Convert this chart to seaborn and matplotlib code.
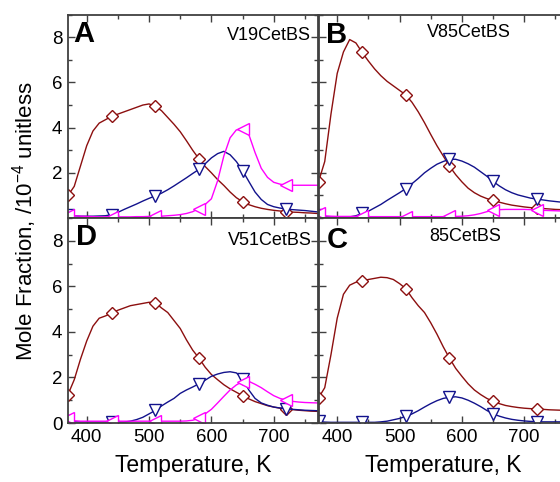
import numpy as np
import pandas as pd
import matplotlib
matplotlib.use("Agg")
import matplotlib.pyplot as plt
from matplotlib.ticker import MultipleLocator
import seaborn as sns

# ---------------- data ----------------
temperature = list(range(370, 780, 10))  # K

a_red = [1.0, 1.4, 2.3, 3.2, 3.85, 4.2, 4.35, 4.5, 4.6, 4.7, 4.8, 4.9, 5.0, 5.05, 4.95,
         4.75, 4.45, 4.15, 3.82, 3.42, 3.0, 2.62, 2.28, 2.0, 1.7, 1.44, 1.15, 0.9, 0.72,
         0.59, 0.5, 0.43, 0.38, 0.34, 0.31, 0.28, 0.26, 0.25, 0.23, 0.22, 0.2]
a_blue = [0.12, 0.1, 0.08, 0.08, 0.08, 0.09, 0.1, 0.15, 0.25, 0.38, 0.5, 0.62, 0.75, 0.87,
          0.98, 1.1, 1.25, 1.42, 1.6, 1.78, 1.97, 2.15, 2.4, 2.66, 2.85, 2.95, 2.8, 2.5, 2.1,
          1.62, 1.15, 0.82, 0.6, 0.5, 0.44, 0.4, 0.37, 0.35, 0.33, 0.3, 0.27]
a_mag = [0.15, 0.1, 0.08, 0.07, 0.06, 0.05, 0.05, 0.05, 0.05, 0.05, 0.05, 0.06, 0.06, 0.07,
         0.08, 0.08, 0.1, 0.12, 0.15, 0.2, 0.28, 0.42, 0.6, 0.85, 1.65, 2.75, 3.55, 3.9, 3.95,
         3.7, 2.9, 2.2, 1.8, 1.58, 1.5, 1.45, 1.45, 1.45, 1.45, 1.45, 1.45]

b_red = [1.6, 2.5, 4.6, 6.4, 7.35, 7.9, 7.75, 7.33, 6.95, 6.6, 6.3, 6.05, 5.85, 5.65, 5.45,
         5.12, 4.7, 4.22, 3.7, 3.2, 2.75, 2.3, 1.92, 1.6, 1.32, 1.12, 0.97, 0.86, 0.78, 0.7,
         0.63, 0.57, 0.53, 0.49, 0.46, 0.44, 0.42, 0.4, 0.38, 0.37, 0.36]
b_blue = [0.15, 0.05, 0.04, 0.04, 0.04, 0.05, 0.1, 0.2, 0.3, 0.45, 0.6, 0.78, 0.95, 1.12,
          1.3, 1.52, 1.75, 2.0, 2.2, 2.38, 2.5, 2.6, 2.6, 2.52, 2.4, 2.25, 2.05, 1.85, 1.62,
          1.42, 1.25, 1.12, 1.02, 0.95, 0.88, 0.84, 0.8, 0.76, 0.73, 0.7, 0.68]
b_mag = [0.2, 0.1, 0.08, 0.07, 0.07, 0.07, 0.07, 0.07, 0.06, 0.06, 0.06, 0.06, 0.06, 0.06,
         0.06, 0.06, 0.06, 0.06, 0.06, 0.06, 0.06, 0.07, 0.07, 0.08, 0.1, 0.14, 0.2, 0.28,
         0.34, 0.37, 0.38, 0.38, 0.38, 0.38, 0.37, 0.36, 0.34, 0.33, 0.32, 0.31, 0.3]

d_red = [1.25, 1.9, 2.8, 3.6, 4.25, 4.6, 4.7, 4.82, 4.95, 5.05, 5.15, 5.2, 5.25, 5.3, 5.28,
         5.05, 4.85, 4.5, 4.15, 3.65, 3.2, 2.85, 2.45, 2.13, 1.9, 1.68, 1.5, 1.35, 1.2, 1.06,
         0.94, 0.85, 0.76, 0.7, 0.65, 0.62, 0.59, 0.56, 0.54, 0.52, 0.51]
d_blue = [0.08, 0.05, 0.04, 0.04, 0.04, 0.04, 0.04, 0.04, 0.04, 0.04, 0.08, 0.15, 0.25, 0.4,
          0.55, 0.75, 0.92, 1.08, 1.3, 1.45, 1.58, 1.72, 1.88, 2.05, 2.15, 2.22, 2.25, 2.2,
          1.95, 1.45, 1.08, 0.88, 0.78, 0.7, 0.66, 0.62, 0.6, 0.58, 0.56, 0.55, 0.54]
d_mag = [0.2, 0.1, 0.08, 0.08, 0.08, 0.08, 0.08, 0.08, 0.08, 0.08, 0.08, 0.08, 0.08, 0.08,
         0.08, 0.08, 0.08, 0.08, 0.08, 0.09, 0.12, 0.2, 0.4, 0.6, 0.88, 1.17, 1.45, 1.67,
         1.82, 1.83, 1.7, 1.55, 1.37, 1.2, 1.08, 1.0, 0.95, 0.92, 0.9, 0.89, 0.88]

c_red = [1.1, 1.55, 3.0, 4.6, 5.65, 6.05, 6.18, 6.23, 6.3, 6.35, 6.4, 6.38, 6.3, 6.12, 5.9,
         5.5, 5.15, 4.85, 4.4, 3.9, 3.35, 2.85, 2.4, 2.05, 1.72, 1.45, 1.25, 1.08, 0.95, 0.85,
         0.77, 0.72, 0.68, 0.65, 0.63, 0.62, 0.6, 0.58, 0.57, 0.56, 0.55]
c_blue = [0.07, 0.04, 0.03, 0.03, 0.03, 0.03, 0.03, 0.03, 0.03, 0.03, 0.05, 0.08, 0.14, 0.2,
          0.29, 0.4, 0.54, 0.7, 0.85, 0.98, 1.08, 1.13, 1.15, 1.1, 1.0, 0.87, 0.72, 0.55, 0.4,
          0.3, 0.22, 0.16, 0.12, 0.09, 0.07, 0.06, 0.05, 0.05, 0.05, 0.05, 0.05]

panel_letters = ["A", "B", "D", "C"]
sample_names = ["V19CetBS", "V85CetBS", "V51CetBS", "85CetBS"]
x_ticks = [400, 500, 600, 700]
y_ticks = [0, 2, 4, 6, 8]
x_label = "Temperature, K"
y_label = "Mole Fraction, /10$^{-4}$ unitless"

# ---------------- style ----------------
sns.set_style("ticks")
plt.rcParams["font.family"] = ["Liberation Sans", "DejaVu Sans"]
plt.rcParams["mathtext.default"] = "regular"
plt.rcParams["text.color"] = "black"
plt.rcParams["axes.labelcolor"] = "black"
plt.rcParams["xtick.labelcolor"] = "black"
plt.rcParams["ytick.labelcolor"] = "black"

RED = "#8c0f0f"
BLUE = "#12128c"
MAG = "#ff00ff"
SPINE = "#404040"

W, H = 560, 482
fig = plt.figure(figsize=(W / 100, H / 100), dpi=100)


def px_axes(left, top, right, bottom):
    return fig.add_axes([left / W, 1 - bottom / H, (right - left) / W, (bottom - top) / H])


axA = px_axes(68, 14.7, 318, 218)
axB = px_axes(318.5, 14.7, 568.5, 218)
axD = px_axes(68, 218, 318, 423)
axC = px_axes(318.5, 218, 568.5, 423)

mark_idx = [0, 7, 14, 21, 28, 35]

panels = [
    (axA, [(a_red, RED, "D", 6.0), (a_blue, BLUE, "v", 8.5), (a_mag, MAG, "<", 8.5)]),
    (axB, [(b_red, RED, "D", 6.0), (b_blue, BLUE, "v", 8.5), (b_mag, MAG, "<", 8.5)]),
    (axD, [(d_red, RED, "D", 6.0), (d_blue, BLUE, "v", 8.5), (d_mag, MAG, "<", 8.5)]),
    (axC, [(c_red, RED, "D", 6.0), (c_blue, BLUE, "v", 8.5)]),
]

for ax, series in panels:
    for vals, col, mk, ms in series:
        df = pd.DataFrame({"T": temperature, "v": vals})
        sns.lineplot(data=df, x="T", y="v", ax=ax, color=col, lw=1.0,
                     estimator=None, sort=False, marker=mk, markevery=mark_idx,
                     markersize=ms, markerfacecolor="white",
                     markeredgecolor=col, markeredgewidth=1.0)

for ax in [axA, axB, axD, axC]:
    ax.set_xlim(370, 771)
    ax.set_ylim(0, 9)
    ax.set_xticks(x_ticks)
    ax.xaxis.set_minor_locator(MultipleLocator(50))
    ax.yaxis.set_minor_locator(MultipleLocator(1))
    ax.tick_params(which="both", direction="in", top=True, right=True,
                   color=SPINE, width=1.0, labelsize=13.5, pad=4, labelcolor="black")
    ax.tick_params(which="major", length=5)
    ax.tick_params(which="minor", length=3)
    for sp in ax.spines.values():
        sp.set_color(SPINE)
        sp.set_linewidth(1.3)
    ax.set_xlabel("")
    ax.set_ylabel("")

axA.set_yticks([2, 4, 6, 8])
axD.set_yticks(y_ticks)
axB.set_yticks(y_ticks)
axC.set_yticks(y_ticks)
for ax in [axB, axC]:
    ax.tick_params(labelleft=False)
for ax in [axA, axB]:
    ax.tick_params(labelbottom=False)

axD.set_xlabel(x_label, fontsize=16.5, labelpad=6, color="black")
axC.set_xlabel(x_label, fontsize=16.5, labelpad=6, color="black")
fig.text(25 / W, 1 - 221 / H, y_label, rotation=90, ha="center", va="center",
         fontsize=16, color="black")

# panel letters and sample names
letter_pos = [(0.020, 0.906), (0.032, 0.9), (0.032, 0.907), (0.032, 0.893)]
name_pos = [(0.972, 0.9, "right"), (0.6, 0.91, "center"), (0.976, 0.888, "right"),
            (0.588, 0.912, "center")]
for ax, letter, name, lp, npos in zip([axA, axB, axD, axC], panel_letters, sample_names,
                                      letter_pos, name_pos):
    ax.text(lp[0], lp[1], letter, transform=ax.transAxes, fontsize=21,
            fontweight="bold", ha="left", va="center", color="black")
    ax.text(npos[0], npos[1], name, transform=ax.transAxes, fontsize=13,
            ha=npos[2], va="center", color="black")

fig.savefig("out.png", dpi=100)
